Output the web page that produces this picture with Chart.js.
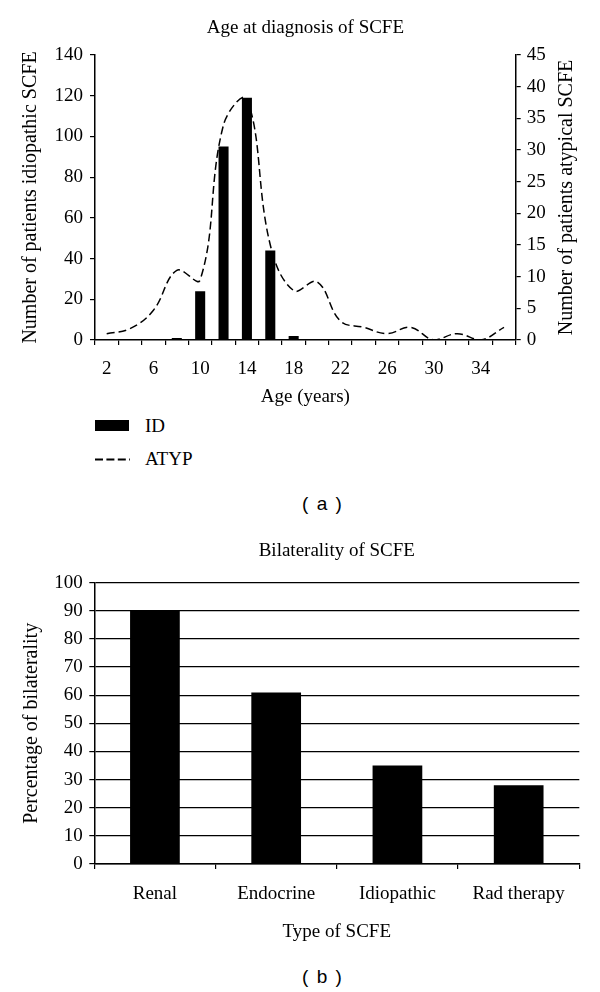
<!DOCTYPE html>
<html>
<head>
<meta charset="utf-8">
<title>SCFE: age at diagnosis and bilaterality</title>
<script src="https://cdn.jsdelivr.net/npm/chart.js@4"></script>
<style>
  body { margin: 0; background: #fff; width: 600px; height: 992px; position: relative; overflow: hidden; }
  canvas { position: absolute; left: 0; }
  #chartA { top: 0; }
  #chartB { top: 520px; }
  .serif { position: absolute; font-family: "Liberation Serif", "Times New Roman", serif; font-size: 19px; line-height: 22px; color: #000; white-space: nowrap; }
  .panel { position: absolute; left: 222px; width: 200px; text-align: center; font-family: "Liberation Sans", Arial, sans-serif; font-size: 19px; line-height: 22px; word-spacing: 3px; color: #000; }
</style>
</head>
<body>
<canvas id="chartA" width="600" height="410"></canvas>
<div id="legendA"></div>
<div class="panel" style="top:493px">( a )</div>
<canvas id="chartB" width="600" height="430"></canvas>
<div class="panel" style="top:966px">( b )</div>
<script>
    // (a) age at diagnosis, one category every 2 years
    var ages = ['2', '4', '6', '8', '10', '12', '14', '16', '18', '20', '22', '24', '26', '28', '30', '32', '34', '36'];
    var idiopathic = [0, 0, 0, 1, 24, 95, 119, 44, 2, 0, 0, 0, 0, 0, 0, 0, 0, 0];
    var atypical = [1, 1.8, 4.7, 11, 9.5, 34, 38, 15, 7.8, 9.2, 3, 2, 1, 2, 0, 1, 0, 2];

    // (b) bilaterality by type
    var types = ['Renal', 'Endocrine', 'Idiopathic', 'Rad therapy'];
    var bilateral = [90, 61, 35, 28];

    Chart.defaults.font.family = '"Liberation Serif", "Times New Roman", serif';
    Chart.defaults.font.size = 19;
    Chart.defaults.color = '#000';

    // excel puts the title over the plot area, not over the whole canvas
    var titleOverPlot = {
        id: 'titleOverPlot',
        afterLayout: function(chart) {
            var t = chart.titleBlock;
            if (t) {
                t.left = chart.chartArea.left;
                t.right = chart.chartArea.right;
            }
        }
    };

    // right axis title reads bottom to top, like the left one
    var rightTitle = {
        id: 'rightTitle',
        afterDraw: function(chart) {
            var s = chart.scales.y1;
            var ctx = chart.ctx;
            ctx.save();
            ctx.translate(s.right - 33.3, (s.top + s.bottom) / 2);
            ctx.rotate(-Math.PI / 2);
            ctx.font = '20px "Liberation Serif", "Times New Roman", serif';
            ctx.fillStyle = '#000';
            ctx.textAlign = 'center';
            ctx.textBaseline = 'middle';
            ctx.fillText(s.options.title.text, 0, 0);
            ctx.restore();
        }
    };

    var tickGrid = { drawOnChartArea: false, tickLength: 5, color: '#000', lineWidth: 1.2 };
    var axisLine = { display: true, color: '#000', width: 1.5 };

    var chartA = new Chart(document.getElementById('chartA'), {
        type: 'bar',
        data: {
            labels: ages,
            datasets: [{
                type: 'bar',
                label: 'ID',
                data: idiopathic,
                yAxisID: 'y',
                backgroundColor: '#000',
                barPercentage: 0.43,
                categoryPercentage: 1,
                order: 2
            }, {
                type: 'line',
                label: 'ATYP',
                data: atypical,
                yAxisID: 'y1',
                borderColor: '#000',
                borderWidth: 1.5,
                borderDash: [8, 4],
                pointRadius: 0,
                tension: 0.4,
                fill: false,
                order: 1
            }]
        },
        options: {
            responsive: false,
            animation: false,
            plugins: {
                legend: { display: false },
                tooltip: { enabled: false },
                title: {
                    display: true,
                    text: 'Age at diagnosis of SCFE',
                    font: { size: 19, weight: 'normal' },
                    padding: { top: 16.6, bottom: 15.6 }
                }
            },
            scales: {
                x: {
                    grid: tickGrid,
                    border: axisLine,
                    ticks: {
                        autoSkip: false,
                        maxRotation: 0,
                        padding: 13,
                        callback: function(v, i) { return i % 2 ? '' : ages[i]; }
                    },
                    title: { display: true, text: 'Age (years)', padding: { top: 0, bottom: 2 } },
                    afterFit: function(s) { s.height = 70; }
                },
                y: {
                    position: 'left',
                    min: 0,
                    max: 140,
                    ticks: { stepSize: 20, padding: 7 },
                    grid: tickGrid,
                    border: axisLine,
                    title: { display: true, text: 'Number of patients idiopathic SCFE', font: { size: 20 }, padding: { top: 19, bottom: 0 } },
                    afterFit: function(s) { s.width = 95; }
                },
                y1: {
                    position: 'right',
                    min: 0,
                    max: 45,
                    ticks: { stepSize: 5, padding: 6 },
                    grid: tickGrid,
                    border: axisLine,
                    title: { display: false, text: 'Number of patients atypical SCFE' },
                    afterFit: function(s) { s.width = 84.3; }
                }
            }
        },
        plugins: [titleOverPlot, rightTitle]
    });

    // legend stacked under the plot, built from the datasets
    var legend = document.getElementById('legendA');
    chartA.data.datasets.forEach(function(ds, i) {
        var y = 426 + i * 33;
        var key;
        if (ds.type === 'bar') {
            key = '<div style="position:absolute;left:95px;top:' + (y - 6) + 'px;width:34px;height:11px;background:#000"></div>';
        } else {
            key = '<svg style="position:absolute;left:95px;top:' + (y - 1.5) + 'px" width="35" height="3">' +
                  '<line x1="0" y1="1.5" x2="35" y2="1.5" stroke="#000" stroke-width="1.8" stroke-dasharray="8,3.4"/></svg>';
        }
        legend.innerHTML += key + '<div class="serif" style="left:145px;top:' + (y - 11) + 'px">' + ds.label + '</div>';
    });

    new Chart(document.getElementById('chartB'), {
        type: 'bar',
        data: {
            labels: types,
            datasets: [{
                label: 'Bilaterality',
                data: bilateral,
                backgroundColor: '#000',
                barPercentage: 0.41,
                categoryPercentage: 1
            }]
        },
        options: {
            responsive: false,
            animation: false,
            layout: { padding: { right: 20.7 } },
            plugins: {
                legend: { display: false },
                tooltip: { enabled: false },
                title: {
                    display: true,
                    text: 'Bilaterality of SCFE',
                    font: { size: 19, weight: 'normal' },
                    padding: { top: 19.6, bottom: 20.3 }
                }
            },
            scales: {
                x: {
                    grid: tickGrid,
                    border: axisLine,
                    ticks: { maxRotation: 0, padding: 14 },
                    title: { display: true, text: 'Type of SCFE', padding: { top: 0, bottom: 6.9 } },
                    afterFit: function(s) { s.height = 86; }
                },
                y: {
                    min: 0,
                    max: 100,
                    ticks: { stepSize: 10, padding: 6.6 },
                    grid: { color: '#000', lineWidth: 1.2, tickLength: 5 },
                    border: axisLine,
                    title: { display: true, text: 'Percentage of bilaterality', font: { size: 20 }, padding: { top: 20, bottom: 0 } },
                    afterFit: function(s) { s.width = 94.3; }
                }
            }
        },
        plugins: [titleOverPlot]
    });
</script>
</body>
</html>
